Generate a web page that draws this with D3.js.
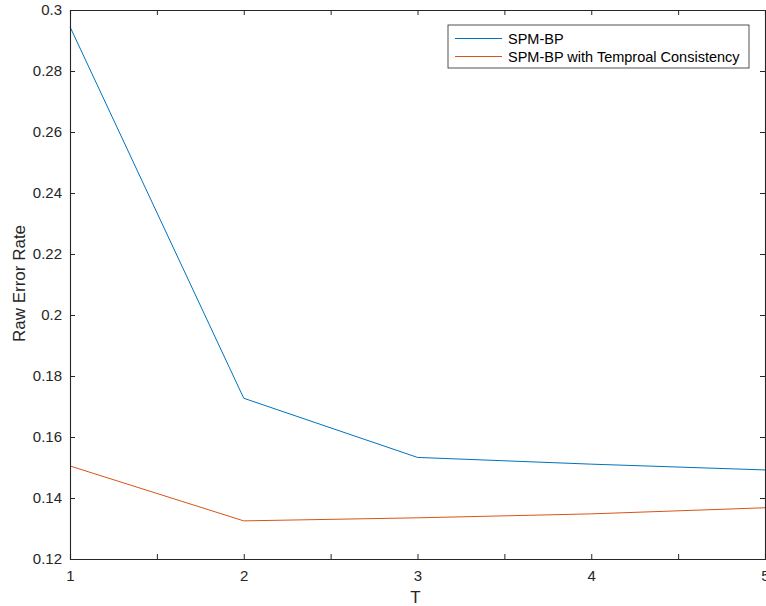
<!DOCTYPE html>
<html>
<head>
<meta charset="utf-8">
<script src="https://cdn.jsdelivr.net/npm/d3@7"></script>
<style>
  body { margin: 0; background: #fff; }
  svg { display: block; font-family: "Liberation Sans", Arial, sans-serif; }
</style>
</head>
<body>
<svg id="chart" width="766" height="606"></svg>
<script>
// data
const tValues = [1, 2, 3, 4, 5];
const spmBp = [0.2945, 0.1727, 0.1533, 0.1511, 0.1492];
const spmBpTc = [0.1505, 0.1325, 0.1335, 0.1348, 0.1368];
const seriesNames = ["SPM-BP", "SPM-BP with Temproal Consistency"];
const seriesColors = ["#0072BD", "#D95319"];
const yTicks = [0.12, 0.14, 0.16, 0.18, 0.2, 0.22, 0.24, 0.26, 0.28, 0.3];
const xTicks = [1, 1.5, 2, 2.5, 3, 3.5, 4, 4.5, 5];

const axisColor = "#262626";
const m = { left: 70, right: 1, top: 10, bottom: 47 };
const W = 766, H = 606;

const svg = d3.select("#chart");
const x = d3.scaleLinear().domain([1, 5]).range([m.left, W - m.right]);
const y = d3.scaleLinear().domain([0.12, 0.3]).range([H - m.bottom, m.top]);

// ── Lines ─────────────────────────────────────────────────────────────────────
const line = d3.line().x((d, i) => x(tValues[i])).y((d) => y(d));
[spmBp, spmBpTc].forEach((vals, i) => {
  svg.append("path")
    .datum(vals)
    .attr("d", line)
    .attr("fill", "none")
    .attr("stroke", seriesColors[i])
    .attr("stroke-width", 1);
});

// ── Axes (box with inward ticks) ──────────────────────────────────────────────
const tick = 5;
const fmtX = (d) => Number.isInteger(d) ? d : "";
const axBottom = svg.append("g").attr("transform", `translate(0,${y(0.12)})`)
  .call(d3.axisBottom(x).tickValues(xTicks).tickSize(-tick).tickPadding(11).tickFormat(fmtX));
const axTop = svg.append("g").attr("transform", `translate(0,${y(0.3)})`)
  .call(d3.axisTop(x).tickValues(xTicks).tickSize(-tick).tickFormat(""));
const axLeft = svg.append("g").attr("transform", `translate(${x(1)},0)`)
  .call(d3.axisLeft(y).tickValues(yTicks).tickSize(-tick).tickPadding(8).tickFormat(d3.format("~g")));
const axRight = svg.append("g").attr("transform", `translate(${x(5)},0)`)
  .call(d3.axisRight(y).tickValues(yTicks).tickSize(-tick).tickFormat(""));

[axBottom, axTop, axLeft, axRight].forEach((g) => {
  g.select(".domain").attr("stroke", axisColor).attr("stroke-width", 1.1);
  g.selectAll(".tick line").attr("stroke", axisColor).attr("stroke-width", 1);
  g.selectAll(".tick text").attr("fill", axisColor).attr("font-size", "15px")
    .attr("font-family", "Liberation Sans, Arial, sans-serif");
});

// ── Axis labels ───────────────────────────────────────────────────────────────
svg.append("text")
  .attr("x", x(3.0) - 2).attr("y", 603)
  .attr("text-anchor", "middle").attr("font-size", "17px").attr("fill", axisColor)
  .text("T");
svg.append("text")
  .attr("transform", `translate(25,${(y(0.12) + y(0.3)) / 2 - 1}) rotate(-90)`)
  .attr("text-anchor", "middle").attr("font-size", "17px").attr("fill", axisColor)
  .text("Raw Error Rate");

// ── Legend ────────────────────────────────────────────────────────────────────
const legend = svg.append("g").attr("transform", "translate(448,25)");
legend.append("rect")
  .attr("width", 301).attr("height", 43)
  .attr("fill", "#fff").attr("stroke", axisColor).attr("stroke-width", 0.8);
seriesNames.forEach((name, i) => {
  const ly = 13.5 + i * 18;
  legend.append("line")
    .attr("x1", 7).attr("x2", 54).attr("y1", ly).attr("y2", ly)
    .attr("stroke", seriesColors[i]).attr("stroke-width", 1);
  legend.append("text")
    .attr("x", 60).attr("y", ly + 5)
    .attr("font-size", "14.5px").attr("fill", "#000")
    .text(name);
});
</script>
</body>
</html>
